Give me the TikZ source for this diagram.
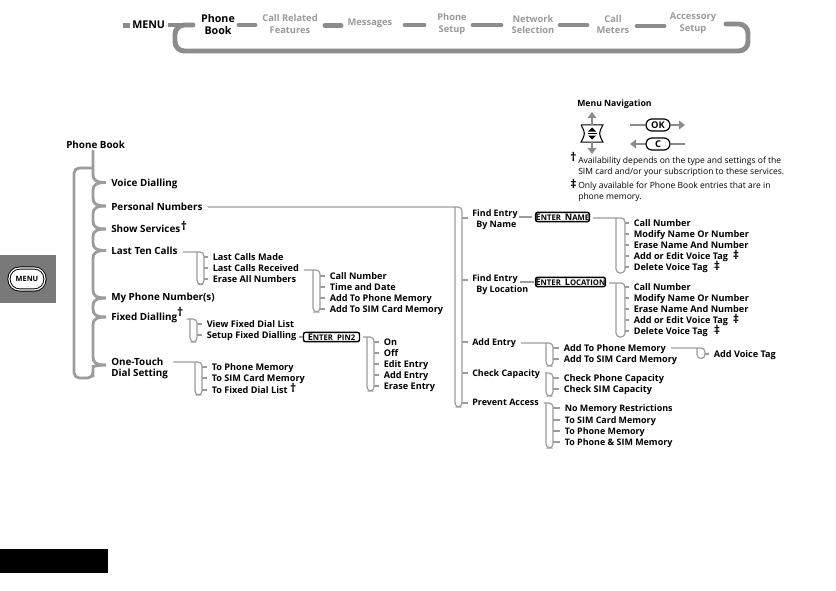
\documentclass[tikz,border=0pt]{standalone}
\usepackage{fontspec}
\setmainfont{Open Sans}
\usetikzlibrary{arrows.meta,calc}
\definecolor{barg}{HTML}{8C8C8C}
\definecolor{txtg}{HTML}{9A9A9A}
\definecolor{linkg}{HTML}{9C9C9C}
\tikzset{
  item/.style={anchor=west,inner sep=1.5pt,text height=6.9pt,text depth=1.5pt,font=\fontsize{6.85}{8.2}\selectfont\bfseries,text=black},
  topitem/.style={item,font=\fontsize{7.4}{8.4}\selectfont\bfseries},
  miditem/.style={item,font=\fontsize{6.7}{8.2}\selectfont\bfseries},
  twoline/.style={anchor=west,inner sep=1.5pt,align=left,text=black},
  menuon/.style={inner sep=0pt,align=center,font=\fontsize{8}{9.6}\selectfont\bfseries},
  menuoff/.style={inner sep=0pt,align=center,font=\fontsize{7}{8.8}\selectfont\bfseries,text=txtg},
  bar/.style={line width=3.7pt,draw=barg,line cap=round},
  spine/.style={line width=2.1pt,draw=linkg},
  link/.style={line width=0.9pt,draw=linkg,rounded corners=3pt},
  tick/.style={line width=0.9pt,draw=linkg},
  softkey/.style={draw=black,line width=1.1pt,fill=white,rounded corners=1.5pt,inner sep=0pt,minimum height=7pt,font=\fontsize{5.8}{6}\selectfont\bfseries},
  note/.style={anchor=west,inner sep=0pt,font=\fontsize{6.4}{8.1}\selectfont,align=left},
  dagmark/.style={inner sep=0pt,font=\fontsize{9}{9}\selectfont\bfseries},
  navarrow/.style={line width=2pt,draw=barg,-{Triangle[length=4.5pt,width=6.5pt]}},
  pill/.style={draw=black,line width=0.9pt,rounded corners=4.5pt,fill=white,inner sep=0pt,minimum height=9pt,minimum width=18pt,font=\fontsize{7}{8}\selectfont\bfseries}
}
% source, xl, xr, ytop, ybot, list of item/y
\newcommand{\brk}[6]{%
  \draw[link] ($(#1.east |- {#2,#4})+(3,0)$) -- (#3,#4) -- (#3,#5) -- (#2,#5) -- (#2,#4);
  \foreach \n/\yy in {#6} {\draw[tick] (#3,\yy) -- ($(\n.west |- {#3,\yy})+(-2.5,0)$);}
}
\begin{document}
\begin{tikzpicture}[x=0.75pt,y=-0.75pt]
\useasboundingbox (0,0) rectangle (836,590);
\fill[white] (0,0) rectangle (836,590);
% tab and black block
\fill[gray!95!black] (0,255) rectangle (56,303);
\node[draw=black,line width=0.7pt,double=white,double distance=0.9pt,fill=white,rounded corners=8pt,minimum width=27pt,minimum height=16.5pt,inner sep=0pt,font=\fontsize{5.5}{6}\selectfont\bfseries] (tabmenu) at (27,279) {MENU};
\fill[black] (0,549) rectangle (108,573);
% top menu bar
\fill[barg] (123,22.5) rectangle (130,27.5);
\node[inner sep=0pt,font=\fontsize{8}{9}\selectfont\bfseries,anchor=west] (mmenu) at (132,25) {MENU};
\node[menuon] (m1) at (218,24.5) {Phone\\Book};
\node[menuoff] (m2) at (290,24) {Call Related\\Features};
\node[menuoff] (m3) at (370,23) {Messages};
\node[menuoff] (m4) at (452,24) {Phone\\Setup};
\node[menuoff] (m5) at (533,24.5) {Network\\Selection};
\node[menuoff] (m6) at (613,24.5) {Call\\Meters};
\node[menuoff] (m7) at (693,23) {Accessory\\Setup};
\draw[bar] (239,25) -- (255,25);
\draw[bar] (325,25.5) -- (341,25.5);
\draw[bar] (405,25) -- (424,25);
\draw[bar] (473,25) -- (501,25);
\draw[bar] (560,25) -- (587,25);
\draw[bar] (637,26) -- (664,26);
\draw[bar,line cap=butt] (168,25) -- (193,25);
\draw[bar,rounded corners=7pt,line cap=round] (193,25) -- (175,25) -- (175,51) -- (748,51) -- (748,24) -- (726,24);
% navigation
\node[anchor=west,inner sep=0pt,font=\fontsize{6.5}{8}\selectfont\bfseries] (navt) at (577,104) {Menu Navigation};
\node[minimum width=16pt,minimum height=12.5pt,inner sep=0pt] (dev) at (592,133.5) {};
\draw[black,line width=0.8pt] (dev.north west) -- (dev.north east) .. controls (598.5,133.5) .. (dev.south east) -- (dev.south west) .. controls (585.5,133.5) .. (dev.north west);
\fill[black] (588,131.5) -- (596,131.5) -- (592,127.5) -- cycle;
\fill[black] (588,135.5) -- (596,135.5) -- (592,139.5) -- cycle;
\draw[black,line width=0.5pt] (587.5,133.5) -- (596.5,133.5);
\coordinate (devup) at (592,112);
\coordinate (devdn) at (592,154);
\draw[navarrow] (dev.north -| devup) -- (devup);
\draw[navarrow] (dev.south -| devdn) -- (devdn);
\node[pill] (ok) at (658,125) {OK};
\node[pill] (c) at (658,144) {C};
\coordinate (okl) at (630,125); \coordinate (okr) at (685,125);
\coordinate (cl) at (630,144); \coordinate (cr) at (685,144);
\draw[line width=2pt,draw=barg] (okl) -- (ok);
\draw[navarrow] (ok) -- (okr);
\draw[navarrow] (c) -- (cl);
\draw[line width=2pt,draw=barg] (c) -- (cr);
\node[dagmark] (d1) at (573.5,157) {†};
\node[note] (n1) at (578,166.5) {Availability depends on the type and settings of the\\SIM card and/or your subscription to these services.};
\node[dagmark] (d2) at (573.5,184) {‡};
\node[note] (n2) at (578,191.5) {Only available for Phone Book entries that are in\\phone memory.};
% main column
\node[topitem] (pb) at (64,144.5) {Phone Book};
\node[topitem] (a1) at (109,182.5) {Voice Dialling};
\node[topitem] (a2) at (109,206.5) {Personal Numbers};
\node[topitem] (a3) at (109,228.5) {Show Services};
\node[dagmark,anchor=west,yshift=2pt,xshift=-1.5pt] at (a3.east) (a3d) {†};
\node[topitem] (a4) at (109,250.5) {Last Ten Calls};
\node[topitem] (a5) at (109,297) {My Phone Number(s)};
\node[topitem] (a6) at (109,317) {Fixed Dialling};
\node[dagmark,anchor=west,yshift=3.5pt,xshift=-2pt] at (a6.east) (a6d) {†};
\node[twoline,font=\fontsize{7.4}{8.4}\selectfont\bfseries] (a7) at (109,368.5) {One-Touch\\Dial Setting};
\foreach \pn/\py/\n/\yy in {a1/182.5/a2/206,a2/206/a3/229,a3/229/a4/250.5,a4/250.5/a5/298,a5/298/a6/317,a6/317/a7/365}{
  \draw[spine] ($(\pn.west |- {93,\py})+(-3,0)$) .. controls (96,\py) and (93,\py+2.5) .. (93,\py+8) -- (93,\yy-8) .. controls (93,\yy-2.5) and (96,\yy) .. ($(\n.west |- {93,\yy})+(-3,0)$);
}
\draw[spine] (93,150) -- (93,174.5) .. controls (93,180) and (96,182.5) .. ($(a1.west |- {93,182.5})+(-3,0)$);
\draw[spine,rounded corners=4pt] ($(a7.west |- {93,365})+(-3,0)$) .. controls (96,365) and (93,367) .. (93,372) -- (93,378) -- (74,378) -- (74,168) -- (92,168);
% last ten calls
\node[item] (b1) at (210.5,257) {Last Calls Made};
\node[item] (b2) at (210.5,268) {Last Calls Received};
\node[item] (b3) at (210.5,279) {Erase All Numbers};
\brk{a4}{197}{204}{252}{284.5}{b1/257,b2/268,b3/279}
\node[item] (c1) at (327.5,276) {Call Number};
\node[item] (c2) at (327.5,287) {Time and Date};
\node[item] (c3) at (327.5,298) {Add To Phone Memory};
\node[item] (c4) at (327.5,309) {Add To SIM Card Memory};
\brk{b2}{313}{320}{270}{312}{c1/276,c2/287,c3/298,c4/309}
% fixed dialling
\node[item] (e1) at (204.5,324) {View Fixed Dial List};
\node[item] (e2) at (204.5,335) {Setup Fixed Dialling};
\brk{a6d}{190}{197}{319}{342}{e1/324,e2/335}
\node[softkey,minimum width=42pt] (pin) at (331.5,337) {{\fontsize{6.8}{6}\selectfont E}NTER\ \ PIN2};
\draw[tick] (e2.east |- pin.west) -- (pin.west);
\node[item] (f1) at (381.5,342) {On};
\node[item] (f2) at (381.5,353) {Off};
\node[item] (f3) at (381.5,364) {Edit Entry};
\node[item] (f4) at (381.5,375) {Add Entry};
\node[item] (f5) at (381.5,386) {Erase Entry};
\brk{pin}{367}{374}{337}{391}{f1/342,f2/353,f3/364,f4/375,f5/386}
% one-touch
\node[item] (g1) at (209.5,367) {To Phone Memory};
\node[item] (g2) at (209.5,378) {To SIM Card Memory};
\node[item] (g3) at (209.5,390) {To Fixed Dial List};
\node[dagmark,anchor=west,yshift=1.5pt,xshift=0pt] at (g3.east) (g3d) {†};
\brk{a7}{195}{202}{362}{395}{g1/367,g2/378,g3/390}
% personal numbers
\node[twoline,font=\fontsize{6.7}{8.2}\selectfont\bfseries] (h1) at (470,220) {Find Entry\\\hspace*{3pt}By Name};
\node[twoline,font=\fontsize{6.7}{8.2}\selectfont\bfseries] (h2) at (470,285) {Find Entry\\\hspace*{3pt}By Location};
\node[miditem] (h3) at (470,342) {Add Entry};
\node[miditem] (h4) at (470,373) {Check Capacity};
\node[miditem] (h5) at (470,402) {Prevent Access};
\brk{a2}{455}{462}{207}{407}{h1/218,h2/280,h3/342,h4/373,h5/403}
% enter name
\node[softkey,minimum width=40pt] (en) at (562.5,217) {{\fontsize{6.8}{6}\selectfont E}NTER\ \ {\fontsize{6.8}{6}\selectfont N}AME};
\coordinate (h1s) at (519,217);
\coordinate (h1e) at (532,217);
\draw[tick] (h1s) -- (h1e);
\node[item] (i1) at (631.5,223) {Call Number};
\node[item] (i2) at (631.5,234) {Modify Name Or Number};
\node[item] (i3) at (631.5,245) {Erase Name And Number};
\node[item] (i4) at (631.5,256) {Add or Edit Voice Tag};
\node[item] (i5) at (631.5,267) {Delete Voice Tag};
\brk{en}{616}{625}{218}{273}{i1/223,i2/234,i3/245,i4/256,i5/267}
\node[dagmark] (i4d) at (736,255) {‡};
\node[dagmark] (i5d) at (717,266) {‡};
% enter location
\node[softkey,minimum width=50pt] (el) at (570.5,282) {{\fontsize{6.8}{6}\selectfont E}NTER\ \ {\fontsize{6.8}{6}\selectfont L}OCATION};
\coordinate (h2s) at (520,282);
\coordinate (h2e) at (534,282);
\draw[tick] (h2s) -- (h2e);
\node[item] (j1) at (631.5,287) {Call Number};
\node[item] (j2) at (631.5,298) {Modify Name Or Number};
\node[item] (j3) at (631.5,309) {Erase Name And Number};
\node[item] (j4) at (631.5,320) {Add or Edit Voice Tag};
\node[item] (j5) at (631.5,331) {Delete Voice Tag};
\brk{el}{616}{625}{283}{337}{j1/287,j2/298,j3/309,j4/320,j5/331}
\node[dagmark] (j4d) at (736,319) {‡};
\node[dagmark] (j5d) at (717,330) {‡};
% add entry
\node[item] (k1) at (561.5,348) {Add To Phone Memory};
\node[item] (k2) at (561.5,359) {Add To SIM Card Memory};
\brk{h3}{546}{553}{343}{366}{k1/348,k2/359}
\node[item] (k3) at (711.5,354) {Add Voice Tag};
\brk{k1}{697}{705}{348}{358.5}{k3/354}
% check capacity
\node[item] (l1) at (561.5,378) {Check Phone Capacity};
\node[item] (l2) at (561.5,389) {Check SIM Capacity};
\brk{h4}{546}{553}{373}{396}{l1/378,l2/389}
% prevent access
\node[miditem] (o1) at (562.5,408) {No Memory Restrictions};
\node[miditem] (o2) at (562.5,420) {To SIM Card Memory};
\node[miditem] (o3) at (562.5,431) {To Phone Memory};
\node[miditem] (o4) at (562.5,442) {To Phone \& SIM Memory};
\brk{h5}{546}{553}{403}{448}{o1/408,o2/420,o3/431,o4/442}
\end{tikzpicture}
\end{document}
